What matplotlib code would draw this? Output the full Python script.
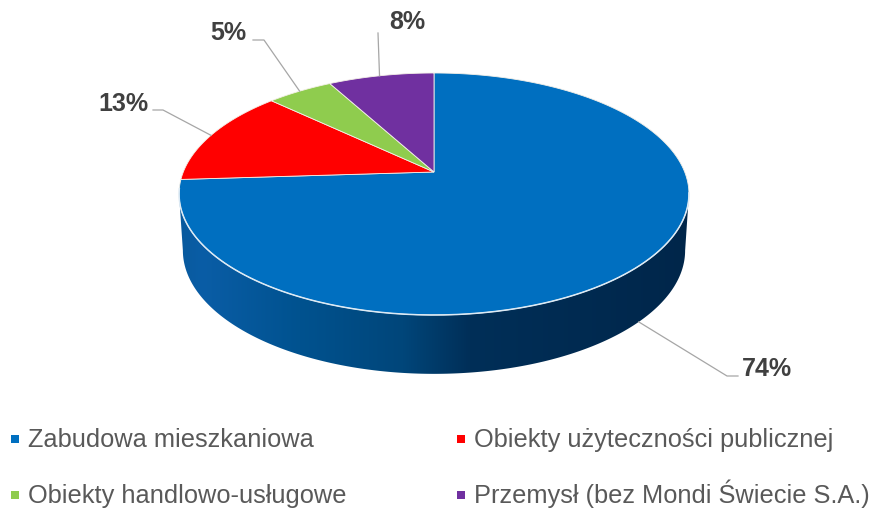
import numpy as np
import matplotlib
matplotlib.use("Agg")
import matplotlib.pyplot as plt
from matplotlib.patches import Polygon
from matplotlib.colors import LinearSegmentedColormap

# data
categories = ["Zabudowa mieszkaniowa", "Obiekty użyteczności publicznej",
              "Obiekty handlowo-usługowe", "Przemysł (bez Mondi Świecie S.A.)"]
values = [74, 13, 5, 8]
labels = ["74%", "13%", "5%", "8%"]
colors = ["#006fc0", "#ff0000", "#8fcc4e", "#7030a0"]

W, H = 872, 509
plt.rcParams['font.family'] = ['Liberation Sans', 'DejaVu Sans']

fig = plt.figure(figsize=(W / 100, H / 100), dpi=100)
ax = fig.add_axes([0, 0, 1, 1])
ax.set_xlim(0, W)
ax.set_ylim(H, 0)
ax.axis("off")

# perspective of the pie plane, pixels
cx, cy = 434, 172
A, K, P = 250.7, 117, 0.1818

def project(theta, sx=1.0, sy=1.0, dy=0.0):
    # theta in degrees clockwise from 12 o'clock
    t = np.radians(theta)
    u, v = np.sin(t), np.cos(t)
    s = 1 / (1 + P * v)
    return cx + sx * A * u * s, cy + dy - sy * K * v * s

# side wall, from the right edge round the front to the left edge
BOTTOM = dict(sx=0.985, sy=1.02, dy=56)
th = np.linspace(100.5, 259.5, 300)
x1, y1 = project(th)
x2, y2 = project(th, **BOTTOM)
wall = Polygon(np.column_stack([np.r_[x1, x2[::-1]], np.r_[y1, y2[::-1]]]),
               closed=True, fc="none", ec="none")
ax.add_patch(wall)
side_cmap = LinearSegmentedColormap.from_list(
    "side", [(0, "#08599c"), (0.05, "#0a5da6"), (0.24, "#00528f"), (0.44, "#00467a"),
             (0.57, "#002f58"), (1, "#00264a")])
grad = ax.imshow(np.linspace(0, 1, 256).reshape(1, -1), cmap=side_cmap,
                 extent=[176, 690, H, 0], aspect="auto", zorder=1)
grad.set_clip_path(wall)
ax.set_xlim(0, W)
ax.set_ylim(H, 0)

# top face, clockwise from 12 o'clock
edges = np.r_[0, np.cumsum(values)] * 360 / sum(values)
for i in range(len(values)):
    th = np.linspace(edges[i], edges[i + 1], 200)
    x, y = project(th)
    ax.add_patch(Polygon(np.column_stack([np.r_[cx, x], np.r_[cy, y]]), closed=True,
                         fc=colors[i], ec="#f4f0e8", lw=0.6, zorder=2))

# white highlight on the front rim
th = np.linspace(100, 262, 200)
x, y = project(th)
ax.plot(x, y, color="#dceaf5", lw=1.1, zorder=3)

# label leader lines
line_c = "#a6a6a6"
def leader(theta, elbow, end, on_wall=False):
    if on_wall:
        px, py = project(theta, **BOTTOM)
    else:
        px, py = project(theta)
    ax.plot([px, elbow[0], end[0]], [py, elbow[1], end[1]], color=line_c, lw=0.9, zorder=4)

leader(133.5, (727, 376), (738, 376), on_wall=True)
leader(edges[1] + 23, (163, 110), (153, 110))
leader(edges[2] + 9, (264, 40), (253, 40))
leader(edges[3] + 14, (378, 33), (378, 33))

label_pos = [(767, 369), (123, 104), (228, 33), (407, 22)]
for txt, pos in zip(labels, label_pos):
    ax.text(pos[0], pos[1], txt, fontsize=18, fontweight="bold", color="#404040",
            ha="center", va="center", zorder=5)

# legend drawn by hand to sit where the original does
legend_x = [11, 457, 11, 457]
legend_y = [447, 447, 503, 503]
for name, col, lx, ly in zip(categories, colors, legend_x, legend_y):
    ax.scatter([lx + 4], [ly - 8], marker="s", s=30, color=col, lw=0, zorder=5)
    ax.text(lx + 17, ly, name, fontsize=18.25, color="#595959", ha="left", va="baseline")

fig.savefig("out.png", dpi=100)
